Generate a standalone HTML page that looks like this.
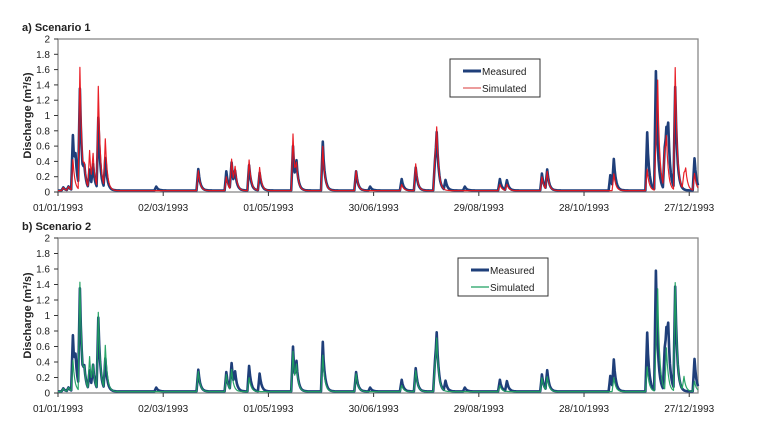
<!DOCTYPE html>
<html><head><meta charset="utf-8"><style>
body{margin:0;background:#fff;width:758px;height:427px;overflow:hidden}
svg text{font-family:"Liberation Sans",sans-serif;font-size:10px;fill:#222}
</style></head><body>
<svg id="s" width="758" height="427" xmlns="http://www.w3.org/2000/svg"></svg>
<script>
const S=document.getElementById('s');let h='';
const X0=58,X1=698,ppd=(X1-X0)/365;
const M=[[8.5,.72],[10,.3],[12.5,1.28],[15,.2],[23,.93],[20,.3],[27,.4],[18,.25],[80,.28],[96,.25],[99,.35],[101,.2],[109,.33],[115,.23],[134,.58],[136,.3],[151,.64],[170,.25],[196,.15],[204,.3],[215,.4],[216,.6],[221,.13],[252,.15],[256,.13],[276,.22],[279,.26],[315,.2],[317,.38],[336,.76],[341,1.55],[346,.55],[347,.6],[348,.55],[352,1.33],[363,.42],[56,.05],[178,.05],[232,.05],[3,.04],[6,.05]];
const A=[[8.5,.4],[12.5,1.6],[15,.2],[18,.5],[20,.4],[23,1.33],[27,.64],[80,.26],[96,.18],[99,.4],[101,.25],[109,.4],[115,.3],[134,.74],[136,.25],[151,.58],[170,.26],[196,.08],[204,.35],[215,.45],[216,.65],[252,.08],[256,.08],[276,.18],[279,.24],[317,.22],[336,.28],[341,.6],[342,1.2],[346,.5],[347,.5],[352,1.6],[357,.22],[358,.2],[363,.22],[3,.04],[6,.05]];
const B=[[8.5,.4],[12.5,1.4],[15,.18],[18,.43],[20,.28],[23,1.0],[27,.57],[80,.26],[96,.22],[99,.27],[109,.18],[134,.52],[136,.27],[151,.47],[170,.23],[196,.08],[204,.27],[215,.35],[216,.55],[252,.08],[276,.18],[279,.18],[317,.18],[336,.32],[341,.55],[342,1.1],[347,.55],[352,1.4],[357,.18],[363,.13],[3,.04],[6,.05]];
function ser(P,base){const v=[];for(let d=0;d<=365;d+=.5){let y=base;for(const[pd,pv]of P){const t=d-pd;if(t>=-1&&t<0)y+=pv*(1+t);else if(t>=0)y+=pv*Math.exp(-t*0.9)}v.push([d,Math.min(y,2)])}return v}
function path(v,y0,yT,col,w,op){let p='';v.forEach(([d,y],i)=>{p+=(i?'L':'M')+(X0+d*ppd).toFixed(1)+','+(y0-(y0-yT)*y/2).toFixed(1)});return `<path d="${p}" fill="none" stroke="${col}" stroke-width="${w}" stroke-linejoin="round" opacity="${op}"/>`}
function panel(y0,yT,title,sim,col,lc,lx,ly){
h+=`<text x="22" y="${yT-8}" style="font-weight:bold;font-size:11px">${title}</text>`;
h+=`<rect x="${X0}" y="${yT}" width="${X1-X0}" height="${y0-yT}" fill="none" stroke="#888" stroke-width="1.3"/>`;
for(let i=0;i<=10;i++){const y=y0-(y0-yT)*i/10;h+=`<line x1="${X0-4}" x2="${X0}" y1="${y}" y2="${y}" stroke="#333"/><text x="${X0-8}" y="${y+3.5}" text-anchor="end">${+(i*0.2).toFixed(1)}</text>`}
const lab=['01/01/1993','02/03/1993','01/05/1993','30/06/1993','29/08/1993','28/10/1993','27/12/1993'];
lab.forEach((l,i)=>{const x=X0+i*60*ppd;h+=`<line x1="${x}" x2="${x}" y1="${y0}" y2="${y0+4}" stroke="#333"/><text x="${x}" y="${y0+19}" text-anchor="middle">${l}</text>`});
h+=`<text transform="translate(31,${(y0+yT)/2}) rotate(-90)" text-anchor="middle" style="font-weight:bold;font-size:11px">Discharge (m³/s)</text>`;
h+=path(ser(M,0.02),y0,yT,'#1f3f7a',2.6,1);
h+=path(ser(sim,0.018),y0,yT,col,1.2,0.95);
h+=`<rect x="${lx}" y="${ly}" width="90" height="38" fill="#fff" stroke="#333"/><line x1="${lx+13}" x2="${lx+31}" y1="${ly+12}" y2="${ly+12}" stroke="#1f3f7a" stroke-width="3"/><text x="${lx+32}" y="${ly+16}">Measured</text><line x1="${lx+13}" x2="${lx+31}" y1="${ly+29}" y2="${ly+29}" stroke="${lc}" stroke-width="1.3"/><text x="${lx+32}" y="${ly+33}">Simulated</text>`;
}
panel(192,39,'a) Scenario 1',A,'#e8141c','#e06060',450,59);
panel(393,238,'b) Scenario 2',B,'#1fa060','#1fa060',458,258);
S.innerHTML=h;
</script>
</body></html>
